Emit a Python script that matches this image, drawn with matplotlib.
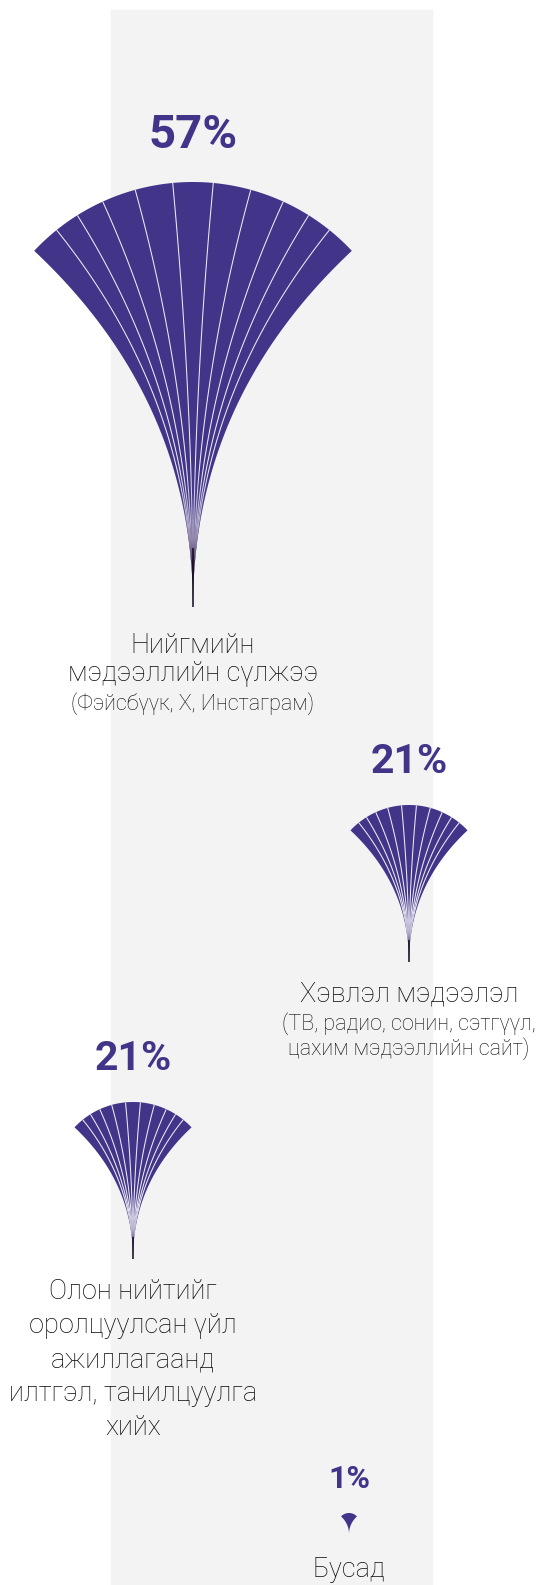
import numpy as np
import matplotlib
matplotlib.use("Agg")
import matplotlib.pyplot as plt
from matplotlib.patches import Polygon, Rectangle
from matplotlib.collections import LineCollection

# --- data ---
values = [57, 21, 21, 1]
pct_labels = ["57%", "21%", "21%", "1%"]
main_lines = [
    ["Нийгмийн", "мэдээллийн сүлжээ"],
    ["Хэвлэл мэдээлэл"],
    ["Олон нийтийг", "оролцуулсан үйл", "ажиллагаанд", "илтгэл, танилцуулга", "хийх"],
    ["Бусад"],
]
sub_lines = [
    ["(Фэйсбүүк, X, Инстаграм)"],
    ["(ТВ, радио, сонин, сэтгүүл,", "цахим мэдээллийн сайт)"],
    [],
    [],
]

# --- layout / style (pixels, y grows downward) ---
W, H = 545, 1585
PURPLE = "#423589"
TEXT = "#0a0a0a"
fan_x = [193, 409, 133, 349]
fan_top = [182, 805, 1102, 1513]
pct_base = [148, 773, 1070, 1488]
pct_size = [34, 29.5, 29.5, 23]
line_base = [[653, 681, 710], [1002, 1030, 1055],
             [1299, 1333, 1367, 1401, 1435], [1577]]
MAIN_FS = 19.5
SUB_FS = 15.5

# fan geometry at full size
R0 = 217.7        # radius of the top arc
H0 = 425          # height from arc top to tip
EDGE = 46.85      # half opening angle (deg)
inner_angles = [5.35, 15.4, 24.5, 32.1, 38.8]
inner_angles = [-a for a in inner_angles[::-1]] + inner_angles

plt.rcParams['font.family'] = ['Roboto', 'DejaVu Sans']

fig = plt.figure(figsize=(W / 100, H / 100), dpi=100)
ax = fig.add_axes([0, 0, 1, 1])
ax.set_xlim(0, W)
ax.set_ylim(H, 0)
ax.axis('off')

# grey column behind the chart
ax.add_patch(Rectangle((111, 10), 321, H - 10, color="#f3f3f3", zorder=0))


def curve(cx, cy, r, bottom, ang, n=120):
    # quadratic curve from a point on the top arc to the tip
    th = np.radians(ang)
    p0 = np.array([cx + r * np.sin(th), cy - r * np.cos(th)])
    p1 = np.array([cx, cy])
    p2 = np.array([cx, bottom])
    t = np.linspace(0, 1, n)[:, None]
    return (1 - t) ** 2 * p0 + 2 * t * (1 - t) * p1 + t ** 2 * p2


# gradient toward the tip of each fan
col_pts = [0.0, 0.68, 0.8, 0.9, 1.0]
grad_cols = np.array([(0.26, 0.21, 0.54), (0.26, 0.21, 0.54), (0.5, 0.45, 0.65),
                      (0.22, 0.15, 0.33), (0.06, 0.03, 0.1)])
grad_alpha = [0, 0, 0.45, 0.95, 1]
rr = np.linspace(0, 1, 200)
grad = np.zeros((200, 1, 4))
for c in range(3):
    grad[:, 0, c] = np.interp(rr, col_pts, grad_cols[:, c])
grad[:, 0, 3] = np.interp(rr, col_pts, grad_alpha)

vmax = max(values)
for i, v in enumerate(values):
    s = max(v / vmax, 0.05)
    cx, top = fan_x[i], fan_top[i]
    r = R0 * s
    cy = top + r
    bottom = top + H0 * s

    left = curve(cx, cy, r, bottom, -EDGE)[::-1]
    th = np.radians(np.linspace(-EDGE, EDGE, 100))
    arc = np.column_stack([cx + r * np.sin(th), cy - r * np.cos(th)])
    right = curve(cx, cy, r, bottom, EDGE)
    outline = np.vstack([left, arc, right])
    fan = Polygon(outline, closed=True, facecolor=PURPLE, edgecolor='none', zorder=2)
    ax.add_patch(fan)

    if s > 0.1:
        segs = [curve(cx, cy, r, bottom, a) for a in inner_angles]
        lc = LineCollection(segs, colors='white', linewidths=0.75, alpha=0.9, zorder=3)
        lc.set_clip_path(fan)
        ax.add_collection(lc)

        im = ax.imshow(grad, extent=(cx - r, cx + r, bottom, top), origin='upper',
                       aspect='auto', zorder=4, interpolation='bilinear')
        im.set_clip_path(fan)
        ax.plot([cx, cx], [top + H0 * s * 0.86, bottom], color="#140a1e",
                lw=1.1, solid_capstyle='butt', zorder=5)

    ax.text(cx, pct_base[i], pct_labels[i], ha='center', va='baseline',
            fontsize=pct_size[i], fontweight='bold', color=PURPLE, zorder=6)

    texts = [(t, MAIN_FS) for t in main_lines[i]] + [(t, SUB_FS) for t in sub_lines[i]]
    for (t, fs), yb in zip(texts, line_base[i]):
        ax.text(cx, yb, t, ha='center', va='baseline', fontsize=fs,
                fontweight='light', color=TEXT, zorder=6)

ax.set_xlim(0, W)
ax.set_ylim(H, 0)
fig.savefig("out.png", dpi=100)
